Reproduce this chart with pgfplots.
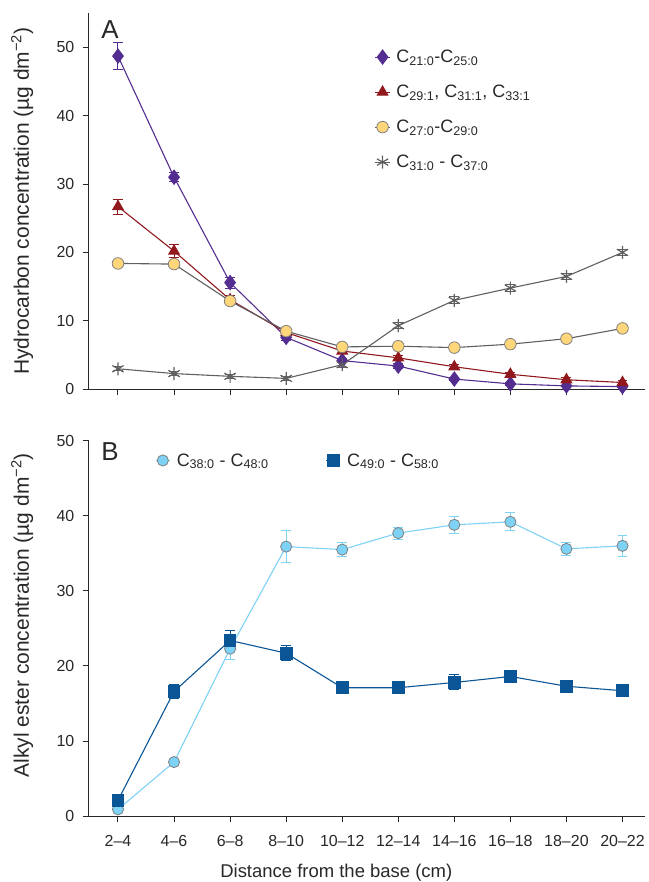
\documentclass[border=0pt]{standalone}
\usepackage{fontspec}
\setmainfont{Liberation Sans}
\usepackage{pgfplots}
\pgfplotsset{compat=1.18}
\definecolor{cpurple}{RGB}{84,45,145}
\definecolor{cred}{RGB}{145,25,30}
\definecolor{cyellow}{RGB}{255,214,122}
\definecolor{cgray}{RGB}{95,95,95}
\definecolor{clight}{RGB}{125,210,245}
\definecolor{cdark}{RGB}{10,85,150}
\definecolor{caxis}{RGB}{40,40,40}

\pgfplotstableread{
x y e
0 48.7 2.0
1 31.0 0.7
2 15.6 0.8
3 7.6 0.4
4 4.2 0.3
5 3.4 0.4
6 1.5 0.2
7 0.8 0.2
8 0.5 0.1
9 0.4 0.1
}\tpurple
\pgfplotstableread{
x y e
0 26.7 1.1
1 20.2 1.0
2 13.1 0.6
3 8.3 0.3
4 5.6 0.3
5 4.6 0.3
6 3.3 0.3
7 2.2 0.3
8 1.4 0.3
9 1.0 0.3
}\tred
\pgfplotstableread{
x y e
0 18.4 0.3
1 18.3 0.3
2 12.9 0.4
3 8.5 0.3
4 6.2 0.3
5 6.3 0.3
6 6.1 0.3
7 6.6 0.3
8 7.4 0.3
9 8.9 0.3
}\tyellow
\pgfplotstableread{
x y e
0 3.0 0.3
1 2.3 0.3
2 1.9 0.3
3 1.6 0.3
4 3.6 0.4
5 9.3 0.4
6 13.0 0.5
7 14.8 0.5
8 16.5 0.5
9 20.0 0.5
}\tstar
\pgfplotstableread{
x y e
0 0.9 0.2
1 7.2 0.3
2 22.3 1.5
3 35.9 2.1
4 35.5 0.9
5 37.7 0.8
6 38.8 1.1
7 39.2 1.2
8 35.6 0.9
9 36.0 1.4
}\tlight
\pgfplotstableread{
x y e
0 2.1 0.2
1 16.6 0.9
2 23.4 1.3
3 21.7 1.0
4 17.1 0.3
5 17.1 0.3
6 17.8 1.0
7 18.6 0.5
8 17.3 0.3
9 16.7 0.5
}\tdark

\pgfplotsset{
 panel/.style={
  scale only axis, width=557pt, xmin=-0.52, xmax=9.4,
  axis x line*=bottom, axis y line*=left,
  axis line style={caxis, line width=1.2pt},
  tick align=outside, major tick length=6pt,
  tick style={caxis, line width=1pt},
  xtick={0,...,9}, ytick={0,10,...,50},
  tick label style={font=\fontsize{16}{18}\selectfont, text=caxis},
  yticklabel style={xshift=-5pt},
  xticklabel style={yshift=-10pt},
  /pgf/number format/assume math mode=true,
  clip=false,
  legend cell align=left,
  legend style={draw=none, fill=none, inner sep=0pt, font=\fontsize{18}{22}\selectfont, text=caxis},
  legend image code/.code={\draw[mark repeat=2,mark phase=2,#1] plot coordinates {(0cm,0cm) (0.25cm,0cm) (0.5cm,0cm)}; \path (0.65cm,0cm);},
 },
 ser/.style={line width=1.1pt, color=#1,
   error bars/y dir=both, error bars/y explicit,
   error bars/error bar style={line width=1pt, color=#1},
   error bars/error mark options={rotate=90, mark size=5pt, line width=1pt, color=#1}},
}

\begin{document}
\begin{tikzpicture}
\begin{axis}[panel, at={(0,0)}, anchor=south west, height=377pt, ymin=0, ymax=55,
  xticklabel style={text opacity=0},
  ylabel={Hydrocarbon concentration (µg dm\textsuperscript{−2})},
  ylabel style={font=\fontsize{21}{24}\selectfont, at={(axis description cs:-0.12,0.5)}, anchor=center, text=caxis},
  legend style={at={(axis cs:4.58,49.9)}, anchor=north west, row sep=17pt}]
\addplot[ser=cpurple, mark=diamond*, mark size=7pt, mark options={fill=cpurple, draw=cpurple}] table[x=x, y=y, y error=e] {\tpurple};
\addlegendentry{C\textsubscript{21:0}-C\textsubscript{25:0}}
\addplot[ser=cred, mark=triangle*, mark size=6pt, mark options={fill=cred, draw=cred}] table[x=x, y=y, y error=e] {\tred};
\addlegendentry{C\textsubscript{29:1}, C\textsubscript{31:1}, C\textsubscript{33:1}}
\addplot[ser=cgray, mark=*, mark size=5.8pt, mark options={fill=cyellow, draw=gray, line width=0.8pt}] table[x=x, y=y, y error=e] {\tyellow};
\addlegendentry{C\textsubscript{27:0}-C\textsubscript{29:0}}
\addplot[ser=cgray, mark=asterisk, mark size=6.5pt, mark options={draw=cgray, line width=1.2pt}] table[x=x, y=y, y error=e] {\tstar};
\addlegendentry{C\textsubscript{31:0} - C\textsubscript{37:0}}
\node[font=\fontsize{26}{30}\selectfont, text=caxis] at (axis cs:-0.14,52.6) {A};
\path (rel axis cs:0,1) ++(0pt,13pt);
\path (rel axis cs:0,0) ++(-89pt,0pt);
\end{axis}
\begin{axis}[panel, at={(0pt,-51.5pt)}, anchor=north west, height=376pt, ymin=0, ymax=50,
  xticklabels={2–4,4–6,6–8,8–10,10–12,12–14,14–16,16–18,18–20,20–22},
  ylabel={Alkyl ester concentration (µg dm\textsuperscript{−2})},
  ylabel style={font=\fontsize{21}{24}\selectfont, at={(axis description cs:-0.12,0.535)}, anchor=center, text=caxis},
  xlabel={Distance from the base (cm)},
  xlabel style={font=\fontsize{18.5}{22}\selectfont, inner sep=0pt, at={(axis description cs:0.445,-0.164)}, anchor=base, text=caxis},
  legend columns=2,
  legend style={at={(axis cs:0.66,48.6)}, anchor=north west, /tikz/every even column/.append style={column sep=55pt}}]
\addplot[ser=clight, mark=*, mark size=5.6pt, mark options={fill=clight, draw=gray, line width=0.8pt}] table[x=x, y=y, y error=e] {\tlight};
\addlegendentry{C\textsubscript{38:0} - C\textsubscript{48:0}}
\addplot[ser=cdark, mark=square*, mark size=5.8pt, mark options={fill=cdark, draw=cdark}] table[x=x, y=y, y error=e] {\tdark};
\addlegendentry{C\textsubscript{49:0} - C\textsubscript{58:0}}
\node[font=\fontsize{26}{30}\selectfont, text=caxis] at (axis cs:-0.14,48.6) {B};
\path (rel axis cs:0,0) ++(0pt,-66pt);
\end{axis}
\end{tikzpicture}
\end{document}
